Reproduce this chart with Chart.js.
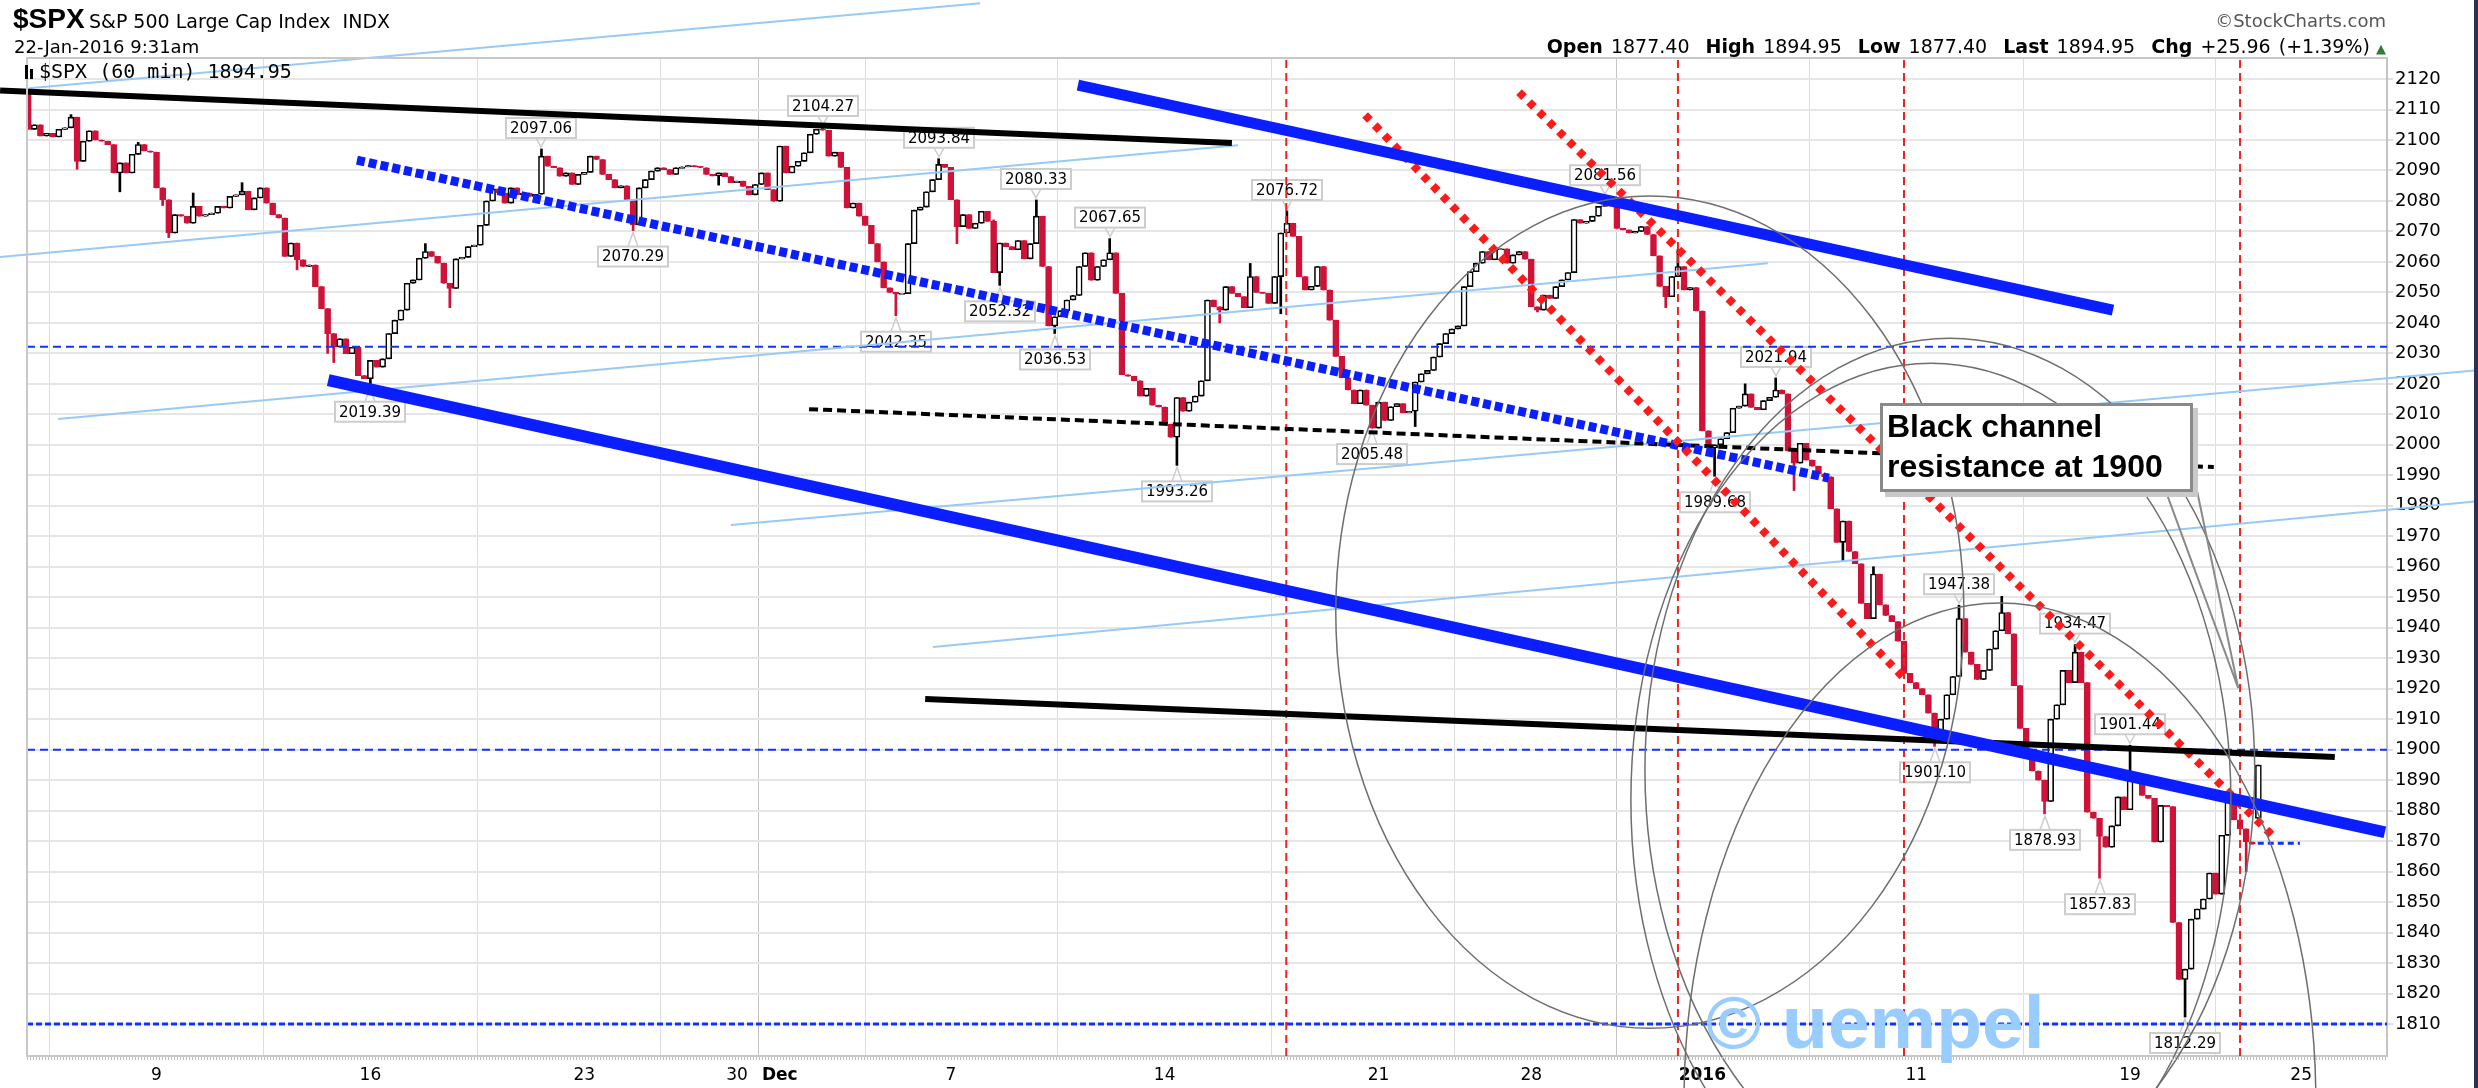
<!DOCTYPE html>
<html>
<head>
<meta charset="utf-8">
<script src="https://cdn.jsdelivr.net/npm/chart.js@4.4.1/dist/chart.umd.min.js"></script>
<style>
  html, body { margin: 0; padding: 0; background: #fff; }
  #wrap { position: relative; width: 2478px; height: 1088px; overflow: hidden; }
  #c { position: absolute; left: 0; top: 0; }
  .t { position: absolute; white-space: nowrap; line-height: 1; color: #000; font-family: "DejaVu Sans", sans-serif; }
  #edge { position: absolute; left: 2474px; top: 0; width: 4px; height: 1088px; background: #2e2e5a; }
  #callout {
    position: absolute; left: 1880px; top: 403px; width: 303px; height: 83px;
    border: 3px solid #8a8a8a; background: #fff; box-shadow: 5px 5px 0 #c9c9c9;
    font: bold 32px "Liberation Sans", Arial, sans-serif; line-height: 40px; padding-left: 4px;
  }
  #mark { position: absolute; left: 1706px; top: 985px; font: bold 75px "Liberation Sans", Arial, sans-serif;
    line-height: 1; color: #99ccff; white-space: nowrap; }
</style>
</head>
<body>
<div id="wrap">
  <canvas id="c" width="2478" height="1088"></canvas>
  <div class="t" style="left:13px;top:5px;font:bold 28px 'Liberation Sans',Arial,sans-serif;line-height:1">$SPX</div>
  <div class="t" style="left:89px;top:12px;font-size:19px">S&amp;P 500 Large Cap Index&nbsp; INDX</div>
  <div class="t" style="left:14px;top:38px;font-size:18px">22-Jan-2016 9:31am</div>
  <div class="t" style="left:25px;top:61px;font-family:'DejaVu Sans Mono',monospace;font-size:20px">
    <span style="display:inline-block;width:3px;height:14px;background:#000;vertical-align:-1px"></span><span style="display:inline-block;width:3px;height:10px;background:#000;margin:0 6px 0 2px;vertical-align:-1px"></span>$SPX (60 min) 1894.95</div>
  <div class="t" style="right:92px;top:12px;font-size:18px;color:#555">&copy;StockCharts.com</div>
  <div class="t" style="right:92px;top:37px;font-size:19px;word-spacing:2px">
    <b>Open</b> 1877.40&nbsp; <b>High</b> 1894.95&nbsp; <b>Low</b> 1877.40&nbsp; <b>Last</b> 1894.95&nbsp; <b>Chg</b> +25.96 (+1.39%)<span style="color:#2e7d32;font-size:13px"> &#9650;</span></div>
  <div id="callout">Black channel<br>resistance at 1900</div>
  <div id="mark">&copy; uempel</div>
  <div id="edge"></div>
</div>
<script>
// 60 min bars, 4-Nov-2015 .. 22-Jan-2016 9:31am (7 bars a day, half days 4 bars)
const closes = [
  // Nov 4, 5, 6
  2103.5, 2105, 2101.3, 2102.2, 2101, 2103.5, 2104,
  2107.5, 2093, 2099.6, 2103, 2100, 2099.6, 2098.5,
  2089.2, 2092.5, 2089.2, 2095.3, 2098.5, 2096.4, 2096,
  // Nov 9 - 13
  2084.3, 2080.4, 2069.5, 2075.5, 2075, 2072.7, 2078.2,
  2075, 2075.5, 2076, 2078.2, 2077.7, 2081.5, 2082,
  2083.2, 2077.1, 2081, 2084.3, 2079.3, 2075.5, 2074.4,
  2061.8, 2066.2, 2060.7, 2058.5, 2059, 2051.9, 2044.7,
  2036.5, 2032.1, 2034.8, 2029.9, 2032, 2022.7, 2021.7,
  // Nov 16 - 20
  2027.7, 2025.5, 2028.2, 2036.5, 2040.9, 2044.2, 2053,
  2054.1, 2061.2, 2063.4, 2061.8, 2059.6, 2053, 2051.3,
  2061, 2061.5, 2065, 2065.5, 2072, 2080, 2084,
  2082.6, 2079.3, 2084.3, 2082, 2082.6, 2081.5, 2082.2,
  2094.7, 2091.4, 2090.9, 2088.1, 2089.2, 2085.4, 2088.7,
  // Nov 23, 24, 25, 27 (half day)
  2089.4, 2094.7, 2093.6, 2088.7, 2087, 2084.3, 2085,
  2080.4, 2072.2, 2084.3, 2087, 2089.8, 2090.9, 2090.3,
  2088.7, 2090.9, 2091.2, 2091.6, 2091.2, 2090.9, 2088.7,
  2088.2, 2089.2, 2088, 2086,
  // Nov 30, Dec 1 - 4
  2086.5, 2084.8, 2082, 2085.4, 2089.2, 2083.7, 2079.9,
  2098, 2089.2, 2091.4, 2093, 2095.8, 2101.9, 2103.5,
  2103.2, 2094.7, 2096, 2091, 2077.7, 2079.3, 2075,
  2072, 2066, 2060, 2051.5, 2050, 2049.5, 2049.6,
  2066, 2077, 2078, 2083, 2087, 2092, 2091,
  // Dec 7 - 11
  2080.4, 2071.6, 2075.5, 2071, 2072.7, 2076.6, 2073.3,
  2056.5, 2066.2, 2065, 2064, 2067, 2061, 2066,
  2075, 2058.5, 2039, 2042, 2044, 2047.5, 2049,
  2058.5, 2063, 2054, 2058.5, 2060.7, 2063, 2049.7,
  2023, 2022.5, 2021, 2016, 2018.5, 2013, 2012.4,
  // Dec 14 - 18
  2006.8, 2002.5, 2015.5, 2011, 2014, 2016, 2021,
  2047.5, 2045.3, 2044.2, 2051.9, 2049.7, 2048.6, 2045,
  2055.2, 2050, 2049.7, 2046.4, 2055.2, 2069.5, 2072.7,
  2068.4, 2055.2, 2050.8, 2052, 2058.5, 2050.8, 2040.9,
  2029, 2022, 2018, 2013.5, 2018, 2013, 2005.5,
  // Dec 21, 22, 23, 24 (half day)
  2014, 2008, 2012.5, 2013.5, 2010.5, 2011, 2020.6,
  2023.3, 2024.4, 2028.8, 2033.2, 2036.5, 2038, 2039,
  2051.9, 2056.8, 2059.6, 2063.4, 2060.7, 2064, 2064.3,
  2059.6, 2062.3, 2063.4, 2060.9,
  // Dec 28 - 31
  2045.3, 2044.2, 2049.1, 2048, 2051.9, 2054.1, 2056.5,
  2073.9, 2072.7, 2073.3, 2075, 2078.2, 2078.5, 2078.4,
  2071, 2070.5, 2069.5, 2070, 2071.6, 2069, 2062,
  2052, 2048.6, 2055.2, 2058.5, 2050.8, 2051.6, 2043.9,
  // Jan 4 - 8
  2004.6, 1999, 2000, 2002, 2004, 2012, 2012.7,
  2016.7, 2012.3, 2011.5, 2014.5, 2015.6, 2018, 2016.7,
  1998, 1994, 2000.5, 1995, 1993, 1990.5, 1989.5,
  1979, 1968, 1975, 1965, 1961, 1948, 1943,
  1957.6, 1947.5, 1944, 1942, 1935.6, 1925, 1922,
  // Jan 11 - 15
  1920, 1918, 1912, 1904, 1910, 1918, 1924,
  1943, 1932, 1928, 1923, 1926, 1933, 1939,
  1945, 1938, 1921, 1907, 1899, 1893, 1890,
  1883, 1910, 1914.7, 1926, 1922, 1932, 1922,
  1879.5, 1877.5, 1871.5, 1868, 1875, 1884.5, 1880.3,
  // Jan 19, 20, 21, 22 (first bar)
  1890, 1889.5, 1885, 1884, 1869.7, 1881.7, 1881.3,
  1843.3, 1824.6, 1828, 1844.4, 1847.7, 1851, 1859.5,
  1852.6, 1871.9, 1882.8, 1877, 1874, 1869.7, 1869,
  1894.95
];
// bars whose open is not the previous close
const gapOpens = [[0, 2115], [365, 1877.4]];
// wick extremes beyond the body [bar, price]
const highMarks = [[0, 2116], [7, 2108.3], [18, 2099.2], [27, 2082.6], [35, 2086], [65, 2066],
  [84, 2097.06], [130, 2104.27], [149, 2093.84], [158, 2073.8], [165, 2080.33], [177, 2067.65],
  [200, 2059.5], [206, 2076.72], [258, 2081.56], [270, 2064], [281, 2020], [286, 2021.94],
  [302, 1960], [316, 1947.38], [323, 1950.3], [335, 1934.47], [344, 1901.44], [365, 1894.95]];
const lowMarks = [[8, 2090.4], [15, 2083], [22, 2078.5], [23, 2068], [44, 2057.4], [49, 2030],
  [50, 2027], [56, 2019.39], [69, 2045], [99, 2070.29], [113, 2085.2], [142, 2042.35],
  [152, 2066], [159, 2052.32], [168, 2036.53], [188, 1993.26], [195, 2040], [205, 2043],
  [220, 2005.48], [227, 2006], [247, 2043.6], [268, 2045], [276, 1989.68], [289, 1985],
  [297, 1962], [312, 1901.1], [330, 1878.93], [339, 1857.83], [353, 1812.29], [363, 1860]];
const labeledHighs = [84, 130, 149, 165, 177, 206, 258, 286, 316, 335, 344];
const labeledLows = [56, 99, 142, 159, 168, 188, 220, 276, 312, 330, 339, 353];

// axis
const tickBars = [21, 56, 91, 116, 123, 151, 186, 221, 246, 274, 309, 344, 372];
const tickLabels = ['9', '16', '23', '30', 'Dec', '7', '14', '21', '28', '2016', '11', '19', '25'];
const boldTicks = ['Dec', '2016'];
const monthBars = [123, 274];
const priceTicks = [1810, 1820, 1830, 1840, 1850, 1860, 1870, 1880, 1890, 1900, 1910, 1920, 1930,
  1940, 1950, 1960, 1970, 1980, 1990, 2000, 2010, 2020, 2030, 2040, 2050, 2060, 2070, 2080,
  2090, 2100, 2110, 2120];

// drawn trendlines [bar, price] pairs
const blackTop = [[-4.6, 2116.2], [197.0, 2099.0]];
const blackLow = [[146.8, 1916.6], [377.5, 1897.6]];
const blueTop = [[171.8, 2118.0], [341.2, 2044.2]];
const blueLow = [[49.1, 2021.2], [385.7, 1872.9]];
const blueDotted = [[53.8, 2093.4], [294.7, 1989.1]];
const blackDashed = [[127.8, 2011.7], [357.7, 1992.7]];
const redDotted1 = [[218.8, 2108.2], [307.3, 1922.8]];
const redDotted2 = [[244.0, 2115.7], [367.2, 1872.0]];
const thinLines = [
  [[0.1, 2117.0], [155.8, 2144.9]],
  [[-4.6, 2061.6], [198.0, 2098.3]],
  [[4.9, 2008.5], [284.7, 2059.6]],
  [[115.0, 1973.7], [400.9, 2024.5]],
  [[148.1, 1933.7], [400.9, 1981.5]]
];
const levelLines = [2032.2, 1900];
const supportLine = 1810;
const shortLevel = [[364.9, 1869.3], [371.8, 1869.3]];
const eventBars = [205.9, 270.0, 307.0, 362.0];
// ellipses [centre bar, centre price, bar radius, price radius]
const ellipses = [
  [265.4, 1945.1, 51.4, 136.5],
  [314.5, 1893.3, 49.9, 141.7],
  [311.4, 1883.4, 49.1, 143.4],
  [322.7, 1785.0, 51.7, 163.1]
];
const calloutTail = [[349.9, 1984.5], [361.7, 1920.2], [355.0, 1984.5]];

const X_MIN = -0.2, X_MAX = 386.05, Y_MIN = 1799.5, Y_MAX = 2126.9;
const RED = '#cf1238';

const hiMap = new Map(highMarks), loMap = new Map(lowMarks), openMap = new Map(gapOpens);
const candles = closes.map((c, i) => {
  const o = openMap.has(i) ? openMap.get(i) : closes[i - 1];
  const hi = hiMap.has(i) ? hiMap.get(i) : Math.max(o, c);
  const lo = loMap.has(i) ? loMap.get(i) : Math.min(o, c);
  return { i, o, c, hi, lo, up: c >= o };
});

function seg(points, color, width, dash, clip, order) {
  return {
    type: 'line',
    data: points.map(([x, y]) => ({ x, y })),
    borderColor: color, borderWidth: width, borderDash: dash || [],
    borderCapStyle: 'butt', pointRadius: 0, fill: false, tension: 0,
    clip: clip ? undefined : false, order: order
  };
}

const datasets = [];
datasets.push(seg(blueLow, '#0a1eff', 12, null, true, 0));
datasets.push(seg(blueTop, '#0a1eff', 11, null, true, 0));
datasets.push(seg(blackLow, '#000', 6, null, true, 0));
datasets.push(seg(blackTop, '#000', 6, null, false, 0));
datasets.push(seg(redDotted1, '#ff1a1a', 8, [7, 7], true, 0));
datasets.push(seg(redDotted2, '#ff1a1a', 8, [7, 7], true, 0));
datasets.push(seg(blueDotted, '#0a1eff', 9, [8, 4], true, 0));
datasets.push(seg(blackDashed, '#000', 4, [9, 5], true, 0));
thinLines.forEach(p => datasets.push(seg(p, '#99c9f7', 2, null, false, 0.5)));
levelLines.forEach(v => datasets.push(seg([[X_MIN, v], [X_MAX, v]], '#1133ff', 2, [8, 5], true, 0.6)));
datasets.push(seg([[X_MIN, supportLine], [X_MAX, supportLine]], '#1133ff', 3, [6, 3], true, 0.6));
datasets.push(seg(shortLevel, '#1133ff', 3, [6, 4], true, 0.6));
eventBars.forEach(b => datasets.push(seg([[b, Y_MIN], [b, Y_MAX]], '#ee2222', 2, [8, 5], true, 0.6)));

datasets.push({
  type: 'bar', label: 'body', order: 1, grouped: false, barThickness: 6,
  data: candles.map(k => ({ x: k.i, y: Math.abs(k.c - k.o) < 0.3 ? [k.o - 0.2, k.o + 0.2] : [k.o, k.c] })),
  backgroundColor: candles.map(k => k.up ? '#fff' : RED),
  borderColor: candles.map(k => k.up ? '#000' : RED),
  borderWidth: 1.6, borderSkipped: false
});
datasets.push({
  type: 'bar', label: 'wick', order: 2, grouped: false, barThickness: 2,
  data: candles.map(k => ({ x: k.i, y: [k.lo, k.hi] })),
  backgroundColor: candles.map(k => k.up ? '#000' : RED),
  borderWidth: 0
});

const peakLabels = [
  ...labeledHighs.map(i => [i, hiMap.get(i), 'hi']),
  ...labeledLows.map(i => [i, loMap.get(i), 'lo'])
];

const overlay = {
  id: 'overlay',
  beforeDatasetsDraw(chart) {
    const { ctx, scales: { x, y } } = chart;
    ctx.save();
    ctx.font = '15px "DejaVu Sans"';
    ctx.textAlign = 'center';
    ctx.textBaseline = 'middle';
    peakLabels.forEach(([i, v, side]) => {
      const px = Math.round(x.getPixelForValue(i)), py = y.getPixelForValue(v);
      const cy = side === 'hi' ? py - 21 : py + 26;
      const txt = v.toFixed(2);
      const w = Math.round(ctx.measureText(txt).width) + 8, h = 20;
      const edge = side === 'hi' ? cy + h / 2 : cy - h / 2;
      const tip = side === 'hi' ? py - 2 : py + 2;
      ctx.strokeStyle = '#cdcdcd';
      ctx.lineWidth = 1.5;
      ctx.beginPath(); ctx.moveTo(px - 5, edge); ctx.lineTo(px, tip); ctx.lineTo(px + 5, edge); ctx.stroke();
      ctx.fillStyle = '#fff';
      ctx.fillRect(px - w / 2, cy - h / 2, w, h);
      ctx.lineWidth = 2;
      ctx.strokeRect(px - w / 2, cy - h / 2, w, h);
      ctx.fillStyle = '#000';
      ctx.fillText(txt, px, cy + 1);
    });
    ctx.restore();
  },
  afterDatasetsDraw(chart) {
    const { ctx, chartArea: a, scales: { x, y } } = chart;
    ctx.save();
    // ellipses
    ctx.strokeStyle = '#6e6e6e';
    ctx.lineWidth = 1.5;
    ellipses.forEach(([cx, cy, rx, ry]) => {
      const px = x.getPixelForValue(cx), py = y.getPixelForValue(cy);
      const rpx = Math.abs(x.getPixelForValue(cx + rx) - px);
      const rpy = Math.abs(y.getPixelForValue(cy + ry) - py);
      ctx.beginPath(); ctx.ellipse(px, py, rpx, rpy, 0, 0, Math.PI * 2); ctx.stroke();
    });
    // callout tail
    ctx.strokeStyle = '#8a8a8a';
    ctx.lineWidth = 2;
    ctx.beginPath();
    calloutTail.forEach(([b, v], k) => {
      const px = x.getPixelForValue(b), py = y.getPixelForValue(v);
      k ? ctx.lineTo(px, py) : ctx.moveTo(px, py);
    });
    ctx.stroke();
    // frame: left/top border and bottom tick strip
    ctx.strokeStyle = '#c8c8c8';
    ctx.lineWidth = 2;
    ctx.beginPath();
    ctx.moveTo(a.left, a.bottom); ctx.lineTo(a.left, a.top); ctx.lineTo(a.right, a.top);
    ctx.stroke();
    ctx.strokeStyle = '#bdbdbd';
    ctx.lineWidth = 3;
    ctx.setLineDash([1, 2]);
    ctx.beginPath(); ctx.moveTo(a.left, a.bottom + 2.5); ctx.lineTo(a.right, a.bottom + 2.5); ctx.stroke();
    ctx.restore();
  }
};

new Chart(document.getElementById('c'), {
  type: 'bar',
  data: { datasets },
  options: {
    responsive: false,
    animation: false,
    devicePixelRatio: 1,
    layout: { padding: { left: 27, top: 58, right: 0, bottom: 0 } },
    plugins: { legend: { display: false }, tooltip: { enabled: false } },
    scales: {
      x: {
        type: 'linear', min: X_MIN, max: X_MAX, offset: false,
        afterBuildTicks: s => { s.ticks = tickBars.map(v => ({ value: v })); },
        afterFit: s => { s.height = 32; },
        grid: {
          color: c => (c.tick && monthBars.includes(c.tick.value)) ? '#c4c4c4' : '#dedede',
          lineWidth: 1, drawTicks: false
        },
        border: { display: true, color: '#c8c8c8', width: 2 },
        ticks: {
          autoSkip: false, maxRotation: 0, padding: 9, color: '#000',
          font: c => ({ family: 'DejaVu Sans', size: 17,
            weight: boldTicks.includes(tickLabels[c.index]) ? 'bold' : 'normal' }),
          callback: (v, i) => tickLabels[i]
        }
      },
      y: {
        type: 'linear', position: 'right', min: Y_MIN, max: Y_MAX,
        afterBuildTicks: s => { s.ticks = priceTicks.map(v => ({ value: v })); },
        afterFit: s => { s.width = 91; },
        grid: { color: '#e6e6e6', lineWidth: 2, tickLength: 6, tickColor: '#bdbdbd', tickWidth: 1 },
        border: { display: true, color: '#c4c4c4', width: 2 },
        ticks: { padding: 2, color: '#000', font: { family: 'DejaVu Sans', size: 18 }, callback: v => String(v) }
      }
    }
  },
  plugins: [overlay]
});
</script>
</body>
</html>
